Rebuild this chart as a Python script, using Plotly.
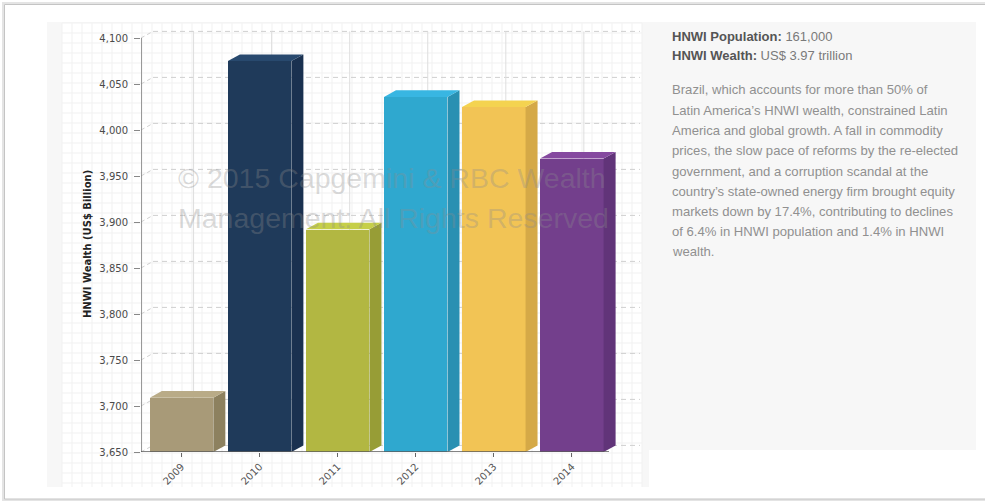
import plotly.graph_objects as go

# ---------------- data ----------------
years = ["2009", "2010", "2011", "2012", "2013", "2014"]
wealth = [3709, 4075, 3892, 4036, 4025, 3969]          # HNWI wealth, US$ billion
front_colors = ["#a89a78", "#1f3a5a", "#b2b742", "#2fa8cf", "#f2c455", "#733f8c"]
side_colors = ["#8d815f", "#1a3150", "#979d36", "#2990b2", "#d5a947", "#613479"]
top_colors = ["#b9ab87", "#28496e", "#c6cf48", "#38b6e2", "#f4d350", "#85499f"]
y_ticks = [3650, 3700, 3750, 3800, 3850, 3900, 3950, 4000, 4050, 4100]
y_tick_text = ["3,650", "3,700", "3,750", "3,800", "3,850", "3,900", "3,950", "4,000", "4,050", "4,100"]

y_title = "HNWI Wealth (US$ Billion)"
watermark_lines = ["© 2015 Capgemini & RBC Wealth", "Management: All Rights Reserved"]
info_lines = [
    ("HNWI Population:", "161,000"),
    ("HNWI Wealth:", "US$ 3.97 trillion"),
]
paragraph = [
    "Brazil, which accounts for more than 50% of",
    "Latin America\u2019s HNWI wealth, constrained Latin",
    "America and global growth. A fall in commodity",
    "prices, the slow pace of reforms by the re-elected",
    "government, and a corruption scandal at the",
    "country\u2019s state-owned energy firm brought equity",
    "markets down by 17.4%, contributing to declines",
    "of 6.4% in HNWI population and 1.4% in HNWI",
    "wealth.",
]

# ---------------- geometry / style ----------------
W, H = 985, 501
def px(x):
    return x / W
def py(y):
    return 1 - y / H

X_RANGE = [-0.52, 5.95]
Y_RANGE = [3650, 4110]
X_DOM_PX = (141, 646)
Y_DOM_PX = (452, 28.8)
x_unit = (X_DOM_PX[1] - X_DOM_PX[0]) / (X_RANGE[1] - X_RANGE[0])
y_unit = (Y_DOM_PX[0] - Y_DOM_PX[1]) / (Y_RANGE[1] - Y_RANGE[0])
BAR_W = 63.5 / x_unit
DX = 12 / x_unit
DY = 6.6 / y_unit
Y0 = Y_RANGE[0]
WALL_RIGHT = X_RANGE[0] + (640 - X_DOM_PX[0]) / x_unit
AXIS_RIGHT = X_RANGE[0] + (609 - X_DOM_PX[0]) / x_unit

xs = list(range(len(years)))

fig = go.Figure()

# front faces
fig.add_trace(go.Bar(
    x=xs, y=wealth, width=BAR_W,
    marker=dict(color=front_colors, line=dict(width=0)),
    hoverinfo="skip", showlegend=False,
))

# side and top faces
for i, v in enumerate(wealth):
    xl, xr = i - BAR_W / 2, i + BAR_W / 2
    fig.add_trace(go.Scatter(
        x=[xr, xr + DX, xr + DX, xr, xr],
        y=[Y0, Y0 + DY, v + DY, v, Y0],
        mode="lines", fill="toself", fillcolor=side_colors[i],
        line=dict(width=0, color=side_colors[i]),
        hoverinfo="skip", showlegend=False,
    ))
    fig.add_trace(go.Scatter(
        x=[xl, xl + DX, xr + DX, xr, xl],
        y=[v, v + DY, v + DY, v, v],
        mode="lines", fill="toself", fillcolor=top_colors[i],
        line=dict(width=0, color=top_colors[i]),
        hoverinfo="skip", showlegend=False,
    ))

shapes = []
# outer frame with soft shadow
shapes.append(dict(type="rect", xref="paper", yref="paper", x0=px(3), x1=px(992), y0=py(3), y1=py(500),
                   line=dict(color="#e4e4e4", width=2), fillcolor="white", layer="below"))
shapes.append(dict(type="rect", xref="paper", yref="paper", x0=px(4.5), x1=px(992), y0=py(4.5), y1=py(499),
                   line=dict(color="#c4c4c4", width=1), fillcolor="white", layer="below"))
# grey panels
shapes.append(dict(type="rect", xref="paper", yref="paper", x0=px(47), x1=px(649), y0=py(22), y1=py(487),
                   line=dict(width=0), fillcolor="#f7f7f7", layer="below"))
shapes.append(dict(type="rect", xref="paper", yref="paper", x0=px(642), x1=px(976), y0=py(22), y1=py(450),
                   line=dict(width=0), fillcolor="#f7f7f7", layer="below"))
# chart white area
shapes.append(dict(type="rect", xref="paper", yref="paper", x0=px(62), x1=px(642), y0=py(23), y1=py(487),
                   line=dict(width=0), fillcolor="white", layer="below"))
# graph-paper grid
path = ""
gx = 62
while gx <= 642:
    path += f"M{px(gx)},{py(23)}L{px(gx)},{py(487)}"
    gx += 10
gy = 23
while gy <= 487:
    path += f"M{px(62)},{py(gy)}L{px(642)},{py(gy)}"
    gy += 10
shapes.append(dict(type="path", xref="paper", yref="paper", path=path,
                   line=dict(color="#f1f1f1", width=1), layer="below"))

# back wall grid lines
for t in y_ticks:
    shapes.append(dict(type="line", xref="x", yref="y", x0=X_RANGE[0], y0=t, x1=X_RANGE[0] + DX, y1=t + DY,
                       line=dict(color="#cfcfcf", width=1, dash="4px,3px"), layer="below"))
    shapes.append(dict(type="line", xref="x", yref="y", x0=X_RANGE[0] + DX, y0=t + DY, x1=WALL_RIGHT, y1=t + DY,
                       line=dict(color="#cfcfcf", width=1, dash="5px,4px"), layer="below"))
for i in xs:
    shapes.append(dict(type="line", xref="x", yref="y", x0=i + DX, y0=Y0 + DY, x1=i + DX, y1=y_ticks[-1] + DY,
                       line=dict(color="#dedede", width=1), layer="below"))

# axis lines
shapes.append(dict(type="line", xref="x", yref="y", x0=X_RANGE[0], y0=Y0, x1=X_RANGE[0], y1=y_ticks[-1],
                   line=dict(color="#7a7a7a", width=1.5), layer="above"))
shapes.append(dict(type="line", xref="x", yref="y", x0=X_RANGE[0], y0=Y0, x1=AXIS_RIGHT, y1=Y0,
                   line=dict(color="#5a5a5a", width=1.5), layer="above"))

annotations = []
annotations.append(dict(xref="paper", yref="paper", x=px(87), y=py(244), text=f"<b>{y_title}</b>",
                        textangle=-90, showarrow=False, xanchor="center", yanchor="middle",
                        font=dict(family="DejaVu Sans", size=10, color="#222")))
for k, line in enumerate(watermark_lines):
    annotations.append(dict(xref="paper", yref="paper", x=px(176), y=py(178 + 40 * k), text=line,
                            showarrow=False, xanchor="left", yanchor="middle",
                            font=dict(family="Liberation Sans", size=28.5, color="rgba(140,140,140,0.32)")))
for k, (lab, val) in enumerate(info_lines):
    annotations.append(dict(xref="paper", yref="paper", x=px(670), y=py(36 + 20 * k),
                            text=f"<b><span style='color:#555'>{lab}</span></b> {val}",
                            showarrow=False, xanchor="left", yanchor="middle",
                            font=dict(family="Liberation Sans", size=13, color="#7a7a7a")))
for k, line in enumerate(paragraph):
    annotations.append(dict(xref="paper", yref="paper", x=px(670), y=py(90 + 20.25 * k), text=line,
                            showarrow=False, xanchor="left", yanchor="middle",
                            font=dict(family="Liberation Sans", size=13.1, color="#909090")))

fig.update_layout(
    width=W, height=H, autosize=False,
    margin=dict(l=0, r=0, t=0, b=0, pad=0, autoexpand=False),
    paper_bgcolor="white", plot_bgcolor="rgba(0,0,0,0)",
    bargap=0, showlegend=False,
    shapes=shapes, annotations=annotations,
    xaxis=dict(domain=[px(X_DOM_PX[0]), px(X_DOM_PX[1])], range=X_RANGE, automargin=False,
               tickvals=xs, ticktext=years, tickangle=-45,
               ticks="outside", ticklen=4, tickcolor="#666",
               showgrid=False, zeroline=False, showline=False, fixedrange=True,
               tickfont=dict(family="DejaVu Sans", size=10, color="#555")),
    yaxis=dict(domain=[py(Y_DOM_PX[0]), py(Y_DOM_PX[1])], range=Y_RANGE, automargin=False,
               tickvals=y_ticks, ticktext=y_tick_text,
               ticks="outside", ticklen=6, tickcolor="#888", ticklabelstandoff=4,
               showgrid=False, zeroline=False, showline=False, fixedrange=True,
               tickfont=dict(family="DejaVu Sans", size=10, color="#4a4a4a")),
)

fig.write_html("out.html")
